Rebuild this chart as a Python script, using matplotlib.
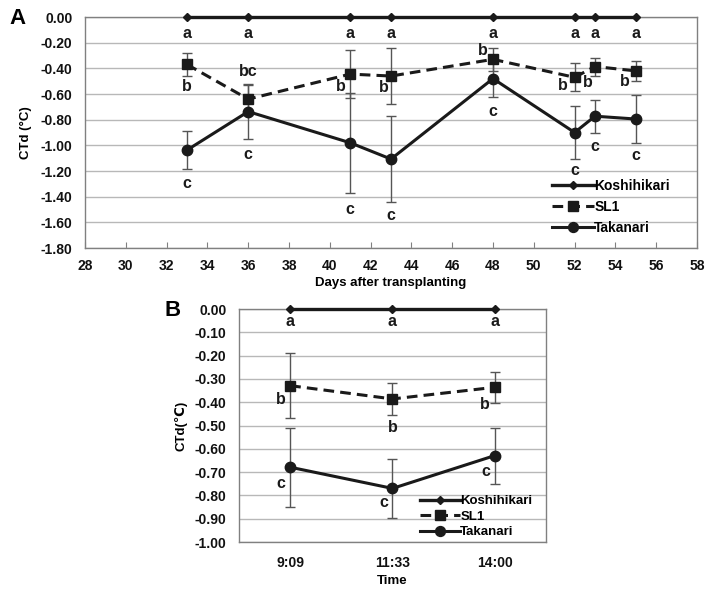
import numpy as np
import matplotlib
matplotlib.use("Agg")
import matplotlib.pyplot as plt
from matplotlib.ticker import FuncFormatter

plt.rcParams['font.family'] = ['Liberation Sans', 'DejaVu Sans']
plt.rcParams['font.weight'] = 'bold'

# ---- panel A data ----
days = [33, 36, 41, 43, 48, 52, 53, 55]
kosh_a = [0, 0, 0, 0, 0, 0, 0, 0]
sl1_a = [-0.37, -0.64, -0.445, -0.46, -0.33, -0.47, -0.386, -0.42]
sl1_a_err = [0.09, 0.12, 0.19, 0.22, 0.09, 0.11, 0.07, 0.08]
tak_a = [-1.037, -0.737, -0.98, -1.107, -0.48, -0.90, -0.773, -0.795]
tak_a_err = [0.15, 0.21, 0.39, 0.335, 0.14, 0.21, 0.13, 0.19]
kosh_a_lab = ['a'] * 8
sl1_a_lab = ['b', 'bc', 'b', 'b', 'b', 'b', 'b', 'b']
tak_a_lab = ['c'] * 8

# ---- panel B data ----
times = ['9:09', '11:33', '14:00']
kosh_b = [0, 0, 0]
sl1_b = [-0.329, -0.386, -0.336]
sl1_b_err = [0.14, 0.07, 0.067]
tak_b = [-0.679, -0.77, -0.629]
tak_b_err = [0.17, 0.125, 0.12]
kosh_b_lab = ['a'] * 3
sl1_b_lab = ['b', 'b', 'b']
tak_b_lab = ['c', 'c', 'c']

# letter offsets in pixels (dx, dy)
kosh_a_off = [(0, -16)] * 8
sl1_a_off = [(0, -22), (0, 28), (-9, -12), (-7, -11), (-10, 9), (-12, -8), (-7, -16), (-11, -11)]
tak_a_off = [(0, -33), (0, -43), (0, -67), (0, -56), (0, -33), (0, -38), (0, -30), (0, -36)]
kosh_b_off = [(0, -12)] * 3
sl1_b_off = [(-9, -14), (0, -29), (-10, -17)]
tak_b_off = [(-9, -16), (-9, -14), (-9, -16)]

W, H = 714, 591
fig = plt.figure(figsize=(W / 100, H / 100), dpi=100)

line_c = '#1a1a1a'
err_c = '#555555'
grid_c = '#b8b8b8'
spine_c = '#808080'

fmt2 = FuncFormatter(lambda v, p: '%.2f' % (0.0 if abs(v) < 1e-9 else v))


def draw(ax, x, kosh, sl1, sl1e, tak, take):
    ax.errorbar(x, sl1, yerr=sl1e, fmt='none', ecolor=err_c, elinewidth=1,
                capsize=3.5, capthick=1, zorder=2)
    ax.errorbar(x, tak, yerr=take, fmt='none', ecolor=err_c, elinewidth=1,
                capsize=3.5, capthick=1, zorder=2)
    ax.plot(x, kosh, color=line_c, lw=2.4, marker='D', ms=4.2,
            label='Koshihikari', zorder=4, clip_on=False)
    ax.plot(x, sl1, color=line_c, lw=2.2, ls=(0, (3.5, 2)), marker='s',
            ms=7, label='SL1', zorder=4)
    ax.plot(x, tak, color=line_c, lw=2.2, marker='o', ms=7.5,
            label='Takanari', zorder=4)


def letters(ax, x, y, labs, offs, fs):
    for xi, yi, lab, (dx, dy) in zip(x, y, labs, offs):
        ax.annotate(lab, (xi, yi), xytext=(dx, dy), textcoords='offset pixels',
                    ha='center', va='center', fontsize=fs, fontweight='bold',
                    color='#1a1a1a', zorder=5)


def style(ax):
    for s in ax.spines.values():
        s.set_color(spine_c)
        s.set_linewidth(1)
    ax.yaxis.grid(True, color=grid_c, lw=1)
    ax.set_axisbelow(True)
    ax.tick_params(axis='both', labelsize=10, colors=spine_c, labelcolor='#111111')
    for t in ax.get_xticklabels() + ax.get_yticklabels():
        t.set_fontweight('bold')


# ---- panel A ----
axA = fig.add_axes([85 / W, 1 - 248 / H, (697 - 85) / W, (248 - 17) / H])
draw(axA, days, kosh_a, sl1_a, sl1_a_err, tak_a, tak_a_err)
axA.set_xlim(28, 58)
axA.set_ylim(-1.8, 0)
axA.set_xticks(np.arange(28, 59, 2))
axA.set_yticks(np.arange(-1.8, 0.01, 0.2))
axA.yaxis.set_major_formatter(fmt2)
axA.tick_params(axis='x', direction='in', length=4, pad=8)
axA.tick_params(axis='y', length=0, pad=9)
style(axA)
axA.set_xlabel('Days after transplanting', fontsize=9.5, fontweight='bold', labelpad=3)
axA.set_ylabel('CTd (°C)', fontsize=9.5, fontweight='bold', labelpad=6)
letters(axA, days, kosh_a, kosh_a_lab, kosh_a_off, 11.5)
letters(axA, days, sl1_a, sl1_a_lab, sl1_a_off, 11.5)
letters(axA, days, tak_a, tak_a_lab, tak_a_off, 11.5)
axA.legend(loc='upper left', bbox_to_anchor=((552 - 85) / 612, 1 - (179 - 17) / 231),
           frameon=False, handlelength=3.0, handletextpad=0.05,
           labelspacing=0.5, borderpad=0, borderaxespad=0, numpoints=1,
           markerscale=0.95, prop={'weight': 'bold', 'size': 10})
fig.text(9 / W, 1 - 18 / H, 'A', fontsize=16, fontweight='bold', va='center')

# ---- panel B ----
axB = fig.add_axes([239 / W, 1 - 542 / H, (546 - 239) / W, (542 - 309) / H])
xb = np.arange(len(times))
draw(axB, xb, kosh_b, sl1_b, sl1_b_err, tak_b, tak_b_err)
axB.set_xlim(-0.5, 2.5)
axB.set_ylim(-1.0, 0)
axB.set_xticks(xb)
axB.set_xticklabels(times)
axB.set_yticks(np.arange(-1.0, 0.01, 0.1))
axB.yaxis.set_major_formatter(fmt2)
axB.tick_params(axis='x', length=0, pad=10)
axB.tick_params(axis='y', length=0, pad=9)
style(axB)
axB.set_xlabel('Time', fontsize=9.5, fontweight='bold', labelpad=4)
axB.set_ylabel('CTd(℃)', fontsize=9.5, fontweight='bold', labelpad=5)
letters(axB, xb, kosh_b, kosh_b_lab, kosh_b_off, 11.5)
letters(axB, xb, sl1_b, sl1_b_lab, sl1_b_off, 11.5)
letters(axB, xb, tak_b, tak_b_lab, tak_b_off, 11.5)
axB.legend(loc='upper left', bbox_to_anchor=((420 - 239) / 307, 1 - (495 - 309) / 233),
           frameon=False, handlelength=3.0, handletextpad=0.05,
           labelspacing=0.25, borderpad=0, borderaxespad=0, numpoints=1,
           markerscale=0.95, prop={'weight': 'bold', 'size': 9.5})
fig.text(165 / W, 1 - 310 / H, 'B', fontsize=16, fontweight='bold', va='center')

fig.savefig('out.png', dpi=100)
